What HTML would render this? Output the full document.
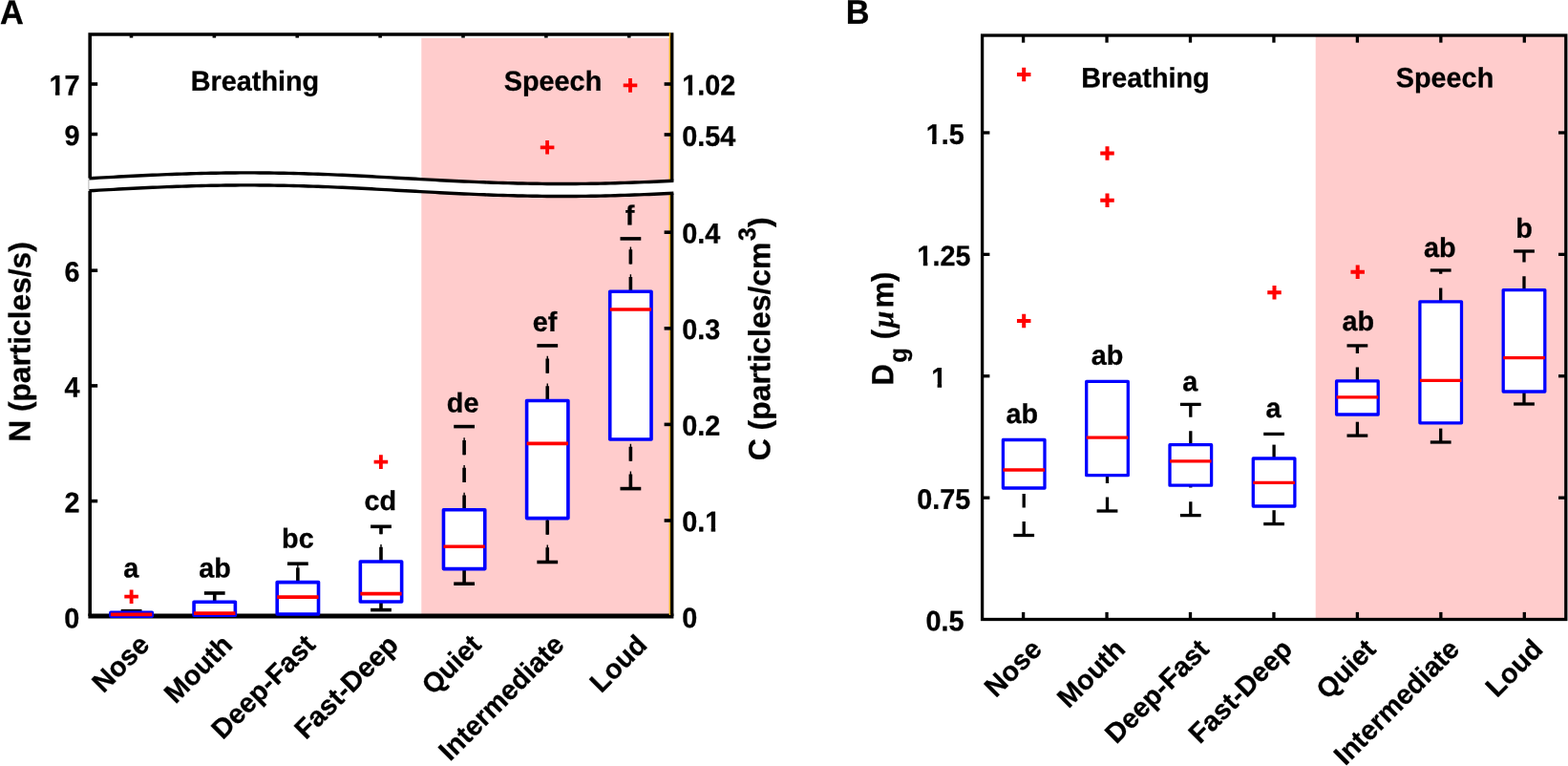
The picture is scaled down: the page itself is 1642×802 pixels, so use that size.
<!DOCTYPE html>
<html lang="en">
<head>
<meta charset="utf-8">
<title>Particle emission during breathing and speech</title>
<style>
html,body{margin:0;padding:0;background:#fff;}
body{width:1642px;height:802px;overflow:hidden;}
svg{display:block;}
svg text{font-family:"Liberation Sans", sans-serif;font-weight:bold;fill:#000;stroke:#000;stroke-width:0.3px;stroke-linejoin:round;text-rendering:geometricPrecision;}
</style>
</head>
<body>
<svg width="1642" height="802" viewBox="0 0 1642 802">
<rect width="1642" height="802" fill="#fff"/>
<polygon points="441.30,40.00 701.00,40.00 701.00,189.50 700.25,189.54 695.15,189.78 690.05,190.02 684.95,190.24 679.85,190.46 674.75,190.67 669.65,190.87 664.55,191.06 659.45,191.24 654.35,191.41 649.25,191.57 644.15,191.72 639.06,191.85 633.96,191.98 628.86,192.09 623.76,192.19 618.66,192.27 613.56,192.34 608.46,192.40 603.36,192.45 598.26,192.48 593.16,192.50 588.06,192.50 582.96,192.49 577.86,192.47 572.76,192.43 567.66,192.38 562.56,192.32 557.46,192.24 552.36,192.15 547.26,192.05 542.16,191.93 537.06,191.81 531.96,191.67 526.86,191.51 521.76,191.35 516.67,191.18 511.57,190.99 506.47,190.80 501.37,190.60 496.27,190.38 491.17,190.16 486.07,189.93 480.97,189.69 475.87,189.45 470.77,189.20 465.67,188.94 460.57,188.68 455.47,188.41 450.37,188.14 445.27,187.87 441.30,187.65" fill="#fcc"/>
<polygon points="441.30,645.00 701.00,645.00 701.00,202.50 700.25,202.54 695.15,202.78 690.05,203.02 684.95,203.24 679.85,203.46 674.75,203.67 669.65,203.87 664.55,204.06 659.45,204.24 654.35,204.41 649.25,204.57 644.15,204.72 639.06,204.85 633.96,204.98 628.86,205.09 623.76,205.19 618.66,205.27 613.56,205.34 608.46,205.40 603.36,205.45 598.26,205.48 593.16,205.50 588.06,205.50 582.96,205.49 577.86,205.47 572.76,205.43 567.66,205.38 562.56,205.32 557.46,205.24 552.36,205.15 547.26,205.05 542.16,204.93 537.06,204.81 531.96,204.67 526.86,204.51 521.76,204.35 516.67,204.18 511.57,203.99 506.47,203.80 501.37,203.60 496.27,203.38 491.17,203.16 486.07,202.93 480.97,202.69 475.87,202.45 470.77,202.20 465.67,201.94 460.57,201.68 455.47,201.41 450.37,201.14 445.27,200.87 441.30,200.65" fill="#fcc"/>
<path d="M94.20 186.69V36.00H703.60V189.38" fill="none" stroke="#000" stroke-width="3.6" stroke-linejoin="miter"/>
<path d="M94.20 199.69V645.00" fill="none" stroke="#000" stroke-width="3.6"/>
<path d="M703.60 202.38V645.00" fill="none" stroke="#000" stroke-width="3.6"/>
<line x1="92.40" y1="645.00" x2="705.40" y2="645.00" stroke="#000" stroke-width="5.0"/>
<line x1="701.40" y1="34.25" x2="701.40" y2="189.38" stroke="#edb120" stroke-width="1.4"/>
<line x1="701.40" y1="202.38" x2="701.40" y2="644.00" stroke="#edb120" stroke-width="1.4"/>
<polygon points="92.45,186.69 93.40,186.73 98.50,186.45 103.60,186.17 108.70,185.89 113.80,185.61 118.90,185.34 124.00,185.07 129.10,184.80 134.20,184.53 139.30,184.28 144.40,184.02 149.50,183.78 154.59,183.54 159.69,183.30 164.79,183.08 169.89,182.86 174.99,182.66 180.09,182.46 185.19,182.27 190.29,182.10 195.39,181.93 200.49,181.78 205.59,181.63 210.69,181.50 215.79,181.38 220.89,181.28 225.99,181.18 231.09,181.10 236.19,181.04 241.29,180.98 246.39,180.94 251.49,180.91 256.59,180.90 261.69,180.90 266.79,180.92 271.89,180.94 276.99,180.98 282.08,181.04 287.18,181.11 292.28,181.19 297.38,181.28 302.48,181.39 307.58,181.51 312.68,181.64 317.78,181.78 322.88,181.94 327.98,182.11 333.08,182.28 338.18,182.47 343.28,182.67 348.38,182.88 353.48,183.09 358.58,183.32 363.68,183.55 368.78,183.79 373.88,184.04 378.98,184.29 384.08,184.55 389.18,184.81 394.28,185.08 399.38,185.35 404.47,185.63 409.57,185.91 414.67,186.19 419.77,186.47 424.87,186.75 429.97,187.03 435.07,187.31 440.17,187.59 445.27,187.87 450.37,188.14 455.47,188.41 460.57,188.68 465.67,188.94 470.77,189.20 475.87,189.45 480.97,189.69 486.07,189.93 491.17,190.16 496.27,190.38 501.37,190.60 506.47,190.80 511.57,190.99 516.67,191.18 521.76,191.35 526.86,191.51 531.96,191.67 537.06,191.81 542.16,191.93 547.26,192.05 552.36,192.15 557.46,192.24 562.56,192.32 567.66,192.38 572.76,192.43 577.86,192.47 582.96,192.49 588.06,192.50 593.16,192.50 598.26,192.48 603.36,192.45 608.46,192.40 613.56,192.34 618.66,192.27 623.76,192.19 628.86,192.09 633.96,191.98 639.06,191.85 644.15,191.72 649.25,191.57 654.35,191.41 659.45,191.24 664.55,191.06 669.65,190.87 674.75,190.67 679.85,190.46 684.95,190.24 690.05,190.02 695.15,189.78 700.25,189.54 705.35,189.29 705.35,202.29 700.25,202.54 695.15,202.78 690.05,203.02 684.95,203.24 679.85,203.46 674.75,203.67 669.65,203.87 664.55,204.06 659.45,204.24 654.35,204.41 649.25,204.57 644.15,204.72 639.06,204.85 633.96,204.98 628.86,205.09 623.76,205.19 618.66,205.27 613.56,205.34 608.46,205.40 603.36,205.45 598.26,205.48 593.16,205.50 588.06,205.50 582.96,205.49 577.86,205.47 572.76,205.43 567.66,205.38 562.56,205.32 557.46,205.24 552.36,205.15 547.26,205.05 542.16,204.93 537.06,204.81 531.96,204.67 526.86,204.51 521.76,204.35 516.67,204.18 511.57,203.99 506.47,203.80 501.37,203.60 496.27,203.38 491.17,203.16 486.07,202.93 480.97,202.69 475.87,202.45 470.77,202.20 465.67,201.94 460.57,201.68 455.47,201.41 450.37,201.14 445.27,200.87 440.17,200.59 435.07,200.31 429.97,200.03 424.87,199.75 419.77,199.47 414.67,199.19 409.57,198.91 404.47,198.63 399.38,198.35 394.28,198.08 389.18,197.81 384.08,197.55 378.98,197.29 373.88,197.04 368.78,196.79 363.68,196.55 358.58,196.32 353.48,196.09 348.38,195.88 343.28,195.67 338.18,195.47 333.08,195.28 327.98,195.11 322.88,194.94 317.78,194.78 312.68,194.64 307.58,194.51 302.48,194.39 297.38,194.28 292.28,194.19 287.18,194.11 282.08,194.04 276.99,193.98 271.89,193.94 266.79,193.92 261.69,193.90 256.59,193.90 251.49,193.91 246.39,193.94 241.29,193.98 236.19,194.04 231.09,194.10 225.99,194.18 220.89,194.28 215.79,194.38 210.69,194.50 205.59,194.63 200.49,194.78 195.39,194.93 190.29,195.10 185.19,195.27 180.09,195.46 174.99,195.66 169.89,195.86 164.79,196.08 159.69,196.30 154.59,196.54 149.50,196.78 144.40,197.02 139.30,197.28 134.20,197.53 129.10,197.80 124.00,198.07 118.90,198.34 113.80,198.61 108.70,198.89 103.60,199.17 98.50,199.45 93.40,199.73 92.45,199.69" fill="#fff"/>
<line x1="92.90" y1="187.69" x2="92.90" y2="198.69" stroke="#666" stroke-width="0.5"/>
<polyline points="93.40,186.73 98.50,186.45 103.60,186.17 108.70,185.89 113.80,185.61 118.90,185.34 124.00,185.07 129.10,184.80 134.20,184.53 139.30,184.28 144.40,184.02 149.50,183.78 154.59,183.54 159.69,183.30 164.79,183.08 169.89,182.86 174.99,182.66 180.09,182.46 185.19,182.27 190.29,182.10 195.39,181.93 200.49,181.78 205.59,181.63 210.69,181.50 215.79,181.38 220.89,181.28 225.99,181.18 231.09,181.10 236.19,181.04 241.29,180.98 246.39,180.94 251.49,180.91 256.59,180.90 261.69,180.90 266.79,180.92 271.89,180.94 276.99,180.98 282.08,181.04 287.18,181.11 292.28,181.19 297.38,181.28 302.48,181.39 307.58,181.51 312.68,181.64 317.78,181.78 322.88,181.94 327.98,182.11 333.08,182.28 338.18,182.47 343.28,182.67 348.38,182.88 353.48,183.09 358.58,183.32 363.68,183.55 368.78,183.79 373.88,184.04 378.98,184.29 384.08,184.55 389.18,184.81 394.28,185.08 399.38,185.35 404.47,185.63 409.57,185.91 414.67,186.19 419.77,186.47 424.87,186.75 429.97,187.03 435.07,187.31 440.17,187.59 445.27,187.87 450.37,188.14 455.47,188.41 460.57,188.68 465.67,188.94 470.77,189.20 475.87,189.45 480.97,189.69 486.07,189.93 491.17,190.16 496.27,190.38 501.37,190.60 506.47,190.80 511.57,190.99 516.67,191.18 521.76,191.35 526.86,191.51 531.96,191.67 537.06,191.81 542.16,191.93 547.26,192.05 552.36,192.15 557.46,192.24 562.56,192.32 567.66,192.38 572.76,192.43 577.86,192.47 582.96,192.49 588.06,192.50 593.16,192.50 598.26,192.48 603.36,192.45 608.46,192.40 613.56,192.34 618.66,192.27 623.76,192.19 628.86,192.09 633.96,191.98 639.06,191.85 644.15,191.72 649.25,191.57 654.35,191.41 659.45,191.24 664.55,191.06 669.65,190.87 674.75,190.67 679.85,190.46 684.95,190.24 690.05,190.02 695.15,189.78 700.25,189.54 705.35,189.29" fill="none" stroke="#000" stroke-width="3.4"/>
<polyline points="93.40,199.73 98.50,199.45 103.60,199.17 108.70,198.89 113.80,198.61 118.90,198.34 124.00,198.07 129.10,197.80 134.20,197.53 139.30,197.28 144.40,197.02 149.50,196.78 154.59,196.54 159.69,196.30 164.79,196.08 169.89,195.86 174.99,195.66 180.09,195.46 185.19,195.27 190.29,195.10 195.39,194.93 200.49,194.78 205.59,194.63 210.69,194.50 215.79,194.38 220.89,194.28 225.99,194.18 231.09,194.10 236.19,194.04 241.29,193.98 246.39,193.94 251.49,193.91 256.59,193.90 261.69,193.90 266.79,193.92 271.89,193.94 276.99,193.98 282.08,194.04 287.18,194.11 292.28,194.19 297.38,194.28 302.48,194.39 307.58,194.51 312.68,194.64 317.78,194.78 322.88,194.94 327.98,195.11 333.08,195.28 338.18,195.47 343.28,195.67 348.38,195.88 353.48,196.09 358.58,196.32 363.68,196.55 368.78,196.79 373.88,197.04 378.98,197.29 384.08,197.55 389.18,197.81 394.28,198.08 399.38,198.35 404.47,198.63 409.57,198.91 414.67,199.19 419.77,199.47 424.87,199.75 429.97,200.03 435.07,200.31 440.17,200.59 445.27,200.87 450.37,201.14 455.47,201.41 460.57,201.68 465.67,201.94 470.77,202.20 475.87,202.45 480.97,202.69 486.07,202.93 491.17,203.16 496.27,203.38 501.37,203.60 506.47,203.80 511.57,203.99 516.67,204.18 521.76,204.35 526.86,204.51 531.96,204.67 537.06,204.81 542.16,204.93 547.26,205.05 552.36,205.15 557.46,205.24 562.56,205.32 567.66,205.38 572.76,205.43 577.86,205.47 582.96,205.49 588.06,205.50 593.16,205.50 598.26,205.48 603.36,205.45 608.46,205.40 613.56,205.34 618.66,205.27 623.76,205.19 628.86,205.09 633.96,204.98 639.06,204.85 644.15,204.72 649.25,204.57 654.35,204.41 659.45,204.24 664.55,204.06 669.65,203.87 674.75,203.67 679.85,203.46 684.95,203.24 690.05,203.02 695.15,202.78 700.25,202.54 705.35,202.29" fill="none" stroke="#000" stroke-width="3.4"/>
<line x1="137.50" y1="36.00" x2="137.50" y2="39.60" stroke="#000" stroke-width="3.6" />
<line x1="224.38" y1="36.00" x2="224.38" y2="39.60" stroke="#000" stroke-width="3.6" />
<line x1="311.25" y1="36.00" x2="311.25" y2="39.60" stroke="#000" stroke-width="3.6" />
<line x1="398.12" y1="36.00" x2="398.12" y2="39.60" stroke="#000" stroke-width="3.6" />
<line x1="485.00" y1="36.00" x2="485.00" y2="39.60" stroke="#000" stroke-width="3.6" />
<line x1="571.88" y1="36.00" x2="571.88" y2="39.60" stroke="#000" stroke-width="3.6" />
<line x1="658.75" y1="36.00" x2="658.75" y2="39.60" stroke="#000" stroke-width="3.6" />
<line x1="94.20" y1="88.00" x2="102.20" y2="88.00" stroke="#000" stroke-width="3.6" />
<text font-size="28.8" text-anchor="end" transform="translate(83.50 99.60) rotate(0.03) scale(1 1.03)" >17</text>
<rect x="51.17" y="95.37" width="6.72" height="6.43" fill="#fff"/>
<rect x="62.45" y="95.37" width="5.64" height="6.43" fill="#fff"/>
<line x1="94.20" y1="140.50" x2="102.20" y2="140.50" stroke="#000" stroke-width="3.6" />
<text font-size="28.8" text-anchor="end" transform="translate(83.50 152.10) rotate(0.03) scale(1 1.03)" >9</text>
<line x1="94.20" y1="283.20" x2="102.20" y2="283.20" stroke="#000" stroke-width="3.6" />
<text font-size="28.8" text-anchor="end" transform="translate(83.50 294.80) rotate(0.03) scale(1 1.03)" >6</text>
<line x1="94.20" y1="403.90" x2="102.20" y2="403.90" stroke="#000" stroke-width="3.6" />
<text font-size="28.8" text-anchor="end" transform="translate(83.50 415.50) rotate(0.03) scale(1 1.03)" >4</text>
<line x1="94.20" y1="524.60" x2="102.20" y2="524.60" stroke="#000" stroke-width="3.6" />
<text font-size="28.8" text-anchor="end" transform="translate(83.50 536.20) rotate(0.03) scale(1 1.03)" >2</text>
<text font-size="28.8" text-anchor="end" transform="translate(83.20 657.50) rotate(0.03) scale(1 1.03)" >0</text>
<line x1="695.60" y1="88.00" x2="703.60" y2="88.00" stroke="#000" stroke-width="3.6" />
<text font-size="28.8" text-anchor="start" transform="translate(714.20 99.20) rotate(0.03) scale(1 1.03)" >1.02</text>
<rect x="713.90" y="94.97" width="6.72" height="6.43" fill="#fff"/>
<rect x="725.17" y="94.97" width="5.64" height="6.43" fill="#fff"/>
<line x1="695.60" y1="140.95" x2="703.60" y2="140.95" stroke="#000" stroke-width="3.6" />
<text font-size="28.8" text-anchor="start" transform="translate(714.20 152.75) rotate(0.03) scale(1 1.03)" >0.54</text>
<line x1="695.60" y1="243.20" x2="703.60" y2="243.20" stroke="#000" stroke-width="3.6" />
<text font-size="28.8" text-anchor="start" transform="translate(714.20 254.50) rotate(0.03) scale(1 1.03)" >0.4</text>
<line x1="695.60" y1="343.80" x2="703.60" y2="343.80" stroke="#000" stroke-width="3.6" />
<text font-size="28.8" text-anchor="start" transform="translate(714.20 355.10) rotate(0.03) scale(1 1.03)" >0.3</text>
<line x1="695.60" y1="444.40" x2="703.60" y2="444.40" stroke="#000" stroke-width="3.6" />
<text font-size="28.8" text-anchor="start" transform="translate(714.20 455.70) rotate(0.03) scale(1 1.03)" >0.2</text>
<line x1="695.60" y1="545.00" x2="703.60" y2="545.00" stroke="#000" stroke-width="3.6" />
<text font-size="28.8" text-anchor="start" transform="translate(714.20 556.30) rotate(0.03) scale(1 1.03)" >0.1</text>
<rect x="737.92" y="552.07" width="6.72" height="6.43" fill="#fff"/>
<rect x="749.19" y="552.07" width="5.64" height="6.43" fill="#fff"/>
<text font-size="28.8" text-anchor="start" transform="translate(714.20 657.10) rotate(0.03) scale(1 1.03)" >0</text>
<line x1="137.60" y1="641.20" x2="137.60" y2="639.70" stroke="#000" stroke-width="3.6" stroke-dasharray="15.2 13.55"/>
<line x1="137.60" y1="641.20" x2="137.60" y2="639.70" stroke="#000" stroke-width="1.4" stroke-dasharray="18 10.75"/>
<line x1="126.70" y1="639.70" x2="148.50" y2="639.70" stroke="#000" stroke-width="3.6" />
<rect x="115.95" y="641.20" width="43.30" height="3.90" fill="#fff" stroke="#00f" stroke-width="3.6" stroke-linejoin="round"/>
<line x1="115.95" y1="643.40" x2="159.25" y2="643.40" stroke="#f00" stroke-width="3.6" />
<line x1="224.73" y1="630.20" x2="224.73" y2="621.00" stroke="#000" stroke-width="3.6" stroke-dasharray="15.2 13.55"/>
<line x1="224.73" y1="630.20" x2="224.73" y2="621.00" stroke="#000" stroke-width="1.4" stroke-dasharray="18 10.75"/>
<line x1="213.83" y1="621.00" x2="235.63" y2="621.00" stroke="#000" stroke-width="3.6" />
<rect x="203.08" y="630.20" width="43.30" height="14.00" fill="#fff" stroke="#00f" stroke-width="3.6" stroke-linejoin="round"/>
<line x1="203.08" y1="642.10" x2="246.38" y2="642.10" stroke="#f00" stroke-width="3.6" />
<line x1="311.86" y1="609.60" x2="311.86" y2="590.20" stroke="#000" stroke-width="3.6" stroke-dasharray="15.2 13.55"/>
<line x1="311.86" y1="609.60" x2="311.86" y2="590.20" stroke="#000" stroke-width="1.4" stroke-dasharray="18 10.75"/>
<line x1="300.96" y1="590.20" x2="322.76" y2="590.20" stroke="#000" stroke-width="3.6" />
<rect x="290.21" y="609.60" width="43.30" height="33.40" fill="#fff" stroke="#00f" stroke-width="3.6" stroke-linejoin="round"/>
<line x1="290.21" y1="625.10" x2="333.51" y2="625.10" stroke="#f00" stroke-width="3.6" />
<line x1="398.99" y1="638.60" x2="398.99" y2="630.00" stroke="#000" stroke-width="3.6" stroke-dasharray="15.2 13.55"/>
<line x1="398.99" y1="638.60" x2="398.99" y2="630.00" stroke="#000" stroke-width="1.4" stroke-dasharray="18 10.75"/>
<line x1="388.09" y1="638.60" x2="409.89" y2="638.60" stroke="#000" stroke-width="3.6" />
<line x1="398.99" y1="588.00" x2="398.99" y2="551.30" stroke="#000" stroke-width="3.6" stroke-dasharray="15.2 13.55"/>
<line x1="398.99" y1="588.00" x2="398.99" y2="551.30" stroke="#000" stroke-width="1.4" stroke-dasharray="18 10.75"/>
<line x1="388.09" y1="551.30" x2="409.89" y2="551.30" stroke="#000" stroke-width="3.6" />
<rect x="377.34" y="588.00" width="43.30" height="42.00" fill="#fff" stroke="#00f" stroke-width="3.6" stroke-linejoin="round"/>
<line x1="377.34" y1="621.60" x2="420.64" y2="621.60" stroke="#f00" stroke-width="3.6" />
<line x1="486.12" y1="611.20" x2="486.12" y2="595.60" stroke="#000" stroke-width="3.6" stroke-dasharray="15.2 13.55"/>
<line x1="486.12" y1="611.20" x2="486.12" y2="595.60" stroke="#000" stroke-width="1.4" stroke-dasharray="18 10.75"/>
<line x1="475.22" y1="611.20" x2="497.02" y2="611.20" stroke="#000" stroke-width="3.6" />
<line x1="486.12" y1="533.70" x2="486.12" y2="446.60" stroke="#000" stroke-width="3.6" stroke-dasharray="15.2 13.55"/>
<line x1="486.12" y1="533.70" x2="486.12" y2="446.60" stroke="#000" stroke-width="1.4" stroke-dasharray="18 10.75"/>
<line x1="475.22" y1="446.60" x2="497.02" y2="446.60" stroke="#000" stroke-width="3.6" />
<rect x="464.47" y="533.70" width="43.30" height="61.90" fill="#fff" stroke="#00f" stroke-width="3.6" stroke-linejoin="round"/>
<line x1="464.47" y1="572.20" x2="507.77" y2="572.20" stroke="#f00" stroke-width="3.6" />
<line x1="573.25" y1="588.50" x2="573.25" y2="542.60" stroke="#000" stroke-width="3.6" stroke-dasharray="15.2 13.55"/>
<line x1="573.25" y1="588.50" x2="573.25" y2="542.60" stroke="#000" stroke-width="1.4" stroke-dasharray="18 10.75"/>
<line x1="562.35" y1="588.50" x2="584.15" y2="588.50" stroke="#000" stroke-width="3.6" />
<line x1="573.25" y1="419.50" x2="573.25" y2="361.90" stroke="#000" stroke-width="3.6" stroke-dasharray="15.2 13.55"/>
<line x1="573.25" y1="419.50" x2="573.25" y2="361.90" stroke="#000" stroke-width="1.4" stroke-dasharray="18 10.75"/>
<line x1="562.35" y1="361.90" x2="584.15" y2="361.90" stroke="#000" stroke-width="3.6" />
<rect x="551.60" y="419.50" width="43.30" height="123.10" fill="#fff" stroke="#00f" stroke-width="3.6" stroke-linejoin="round"/>
<line x1="551.60" y1="464.40" x2="594.90" y2="464.40" stroke="#f00" stroke-width="3.6" />
<line x1="660.38" y1="511.60" x2="660.38" y2="460.00" stroke="#000" stroke-width="3.6" stroke-dasharray="15.2 13.55"/>
<line x1="660.38" y1="511.60" x2="660.38" y2="460.00" stroke="#000" stroke-width="1.4" stroke-dasharray="18 10.75"/>
<line x1="649.48" y1="511.60" x2="671.28" y2="511.60" stroke="#000" stroke-width="3.6" />
<line x1="660.38" y1="305.20" x2="660.38" y2="249.90" stroke="#000" stroke-width="3.6" stroke-dasharray="15.2 13.55"/>
<line x1="660.38" y1="305.20" x2="660.38" y2="249.90" stroke="#000" stroke-width="1.4" stroke-dasharray="18 10.75"/>
<line x1="649.48" y1="249.90" x2="671.28" y2="249.90" stroke="#000" stroke-width="3.6" />
<rect x="638.73" y="305.20" width="43.30" height="154.80" fill="#fff" stroke="#00f" stroke-width="3.6" stroke-linejoin="round"/>
<line x1="638.73" y1="324.00" x2="682.03" y2="324.00" stroke="#f00" stroke-width="3.6" />
<path d="M130.30 624.70H144.90M137.60 617.40V632.00" stroke="#f00" stroke-width="3.8" fill="none"/>
<path d="M391.60 483.60H406.20M398.90 476.30V490.90" stroke="#f00" stroke-width="3.8" fill="none"/>
<path d="M652.70 89.40H667.30M660.00 82.10V96.70" stroke="#f00" stroke-width="3.8" fill="none"/>
<path d="M565.80 154.30H580.40M573.10 147.00V161.60" stroke="#f00" stroke-width="3.8" fill="none"/>
<text font-size="28.8" text-anchor="middle" transform="translate(137.20 604.50) rotate(0.03)" >a</text>
<text font-size="28.8" text-anchor="middle" transform="translate(225.13 604.50) rotate(0.03)" >ab</text>
<text font-size="28.8" text-anchor="middle" transform="translate(311.86 573.40) rotate(0.03)" >bc</text>
<text font-size="28.8" text-anchor="middle" transform="translate(398.19 534.00) rotate(0.03)" >cd</text>
<text font-size="28.8" text-anchor="middle" transform="translate(484.62 431.60) rotate(0.03)" >de</text>
<text font-size="28.8" text-anchor="middle" transform="translate(570.45 346.80) rotate(0.03)" >ef</text>
<text font-size="28.8" text-anchor="middle" transform="translate(659.58 235.30) rotate(0.03)" >f</text>
<text font-size="28.8" text-anchor="middle" transform="translate(267.00 94.80) rotate(0.03) scale(1 1.01)" >Breathing</text>
<text font-size="28.8" text-anchor="middle" transform="translate(579.00 94.80) rotate(0.03) scale(1 1.01)" >Speech</text>
<text font-size="28.8" text-anchor="end" transform="translate(158.00 676.70) rotate(-45)" >Nose</text>
<text font-size="28.8" text-anchor="end" transform="translate(244.88 676.70) rotate(-45)" >Mouth</text>
<text font-size="28.8" text-anchor="end" transform="translate(331.75 676.70) rotate(-45)" >Deep-Fast</text>
<text font-size="28.8" text-anchor="end" transform="translate(418.62 676.70) rotate(-45)" >Fast-Deep</text>
<text font-size="28.8" text-anchor="end" transform="translate(505.50 676.70) rotate(-45)" >Quiet</text>
<text font-size="28.8" text-anchor="end" transform="translate(592.38 676.70) rotate(-45)" >Intermediate</text>
<text font-size="28.8" text-anchor="end" transform="translate(679.25 676.70) rotate(-45)" >Loud</text>
<text font-size="31.7" text-anchor="middle" transform="translate(31.60 358.00) rotate(-89.97)" >N (particles/s)</text>
<text font-size="31.9" text-anchor="start" transform="translate(806.2 482.3) rotate(-89.97)">C (particles/cm<tspan dx="1.3" dy="-15.4" font-size="25.4">3</tspan><tspan dx="0.3" dy="15.4">)</tspan></text>
<text font-size="34.3" text-anchor="start" transform="translate(0.10 25.00) rotate(0.03) scale(1 1.04)" >A</text>
<rect x="1377.7" y="37.05" width="262.0999999999999" height="611.45" fill="#fcc"/>
<rect x="1028.6" y="37.05" width="611.2" height="611.45" fill="none" stroke="#000" stroke-width="3.3"/>
<line x1="1071.60" y1="37.05" x2="1071.60" y2="44.65" stroke="#000" stroke-width="3.3" />
<line x1="1071.60" y1="648.50" x2="1071.60" y2="640.90" stroke="#000" stroke-width="3.3" />
<line x1="1159.05" y1="37.05" x2="1159.05" y2="44.65" stroke="#000" stroke-width="3.3" />
<line x1="1159.05" y1="648.50" x2="1159.05" y2="640.90" stroke="#000" stroke-width="3.3" />
<line x1="1246.50" y1="37.05" x2="1246.50" y2="44.65" stroke="#000" stroke-width="3.3" />
<line x1="1246.50" y1="648.50" x2="1246.50" y2="640.90" stroke="#000" stroke-width="3.3" />
<line x1="1333.95" y1="37.05" x2="1333.95" y2="44.65" stroke="#000" stroke-width="3.3" />
<line x1="1333.95" y1="648.50" x2="1333.95" y2="640.90" stroke="#000" stroke-width="3.3" />
<line x1="1421.40" y1="37.05" x2="1421.40" y2="44.65" stroke="#000" stroke-width="3.3" />
<line x1="1421.40" y1="648.50" x2="1421.40" y2="640.90" stroke="#000" stroke-width="3.3" />
<line x1="1508.85" y1="37.05" x2="1508.85" y2="44.65" stroke="#000" stroke-width="3.3" />
<line x1="1508.85" y1="648.50" x2="1508.85" y2="640.90" stroke="#000" stroke-width="3.3" />
<line x1="1596.30" y1="37.05" x2="1596.30" y2="44.65" stroke="#000" stroke-width="3.3" />
<line x1="1596.30" y1="648.50" x2="1596.30" y2="640.90" stroke="#000" stroke-width="3.3" />
<line x1="1028.60" y1="138.95" x2="1036.40" y2="138.95" stroke="#000" stroke-width="3.3" />
<line x1="1632.00" y1="138.95" x2="1639.80" y2="138.95" stroke="#000" stroke-width="3.3" />
<text font-size="28.8" text-anchor="middle" transform="translate(989.70 150.65) rotate(0.03) scale(1 1.03)" >1.5</text>
<rect x="969.38" y="146.42" width="6.72" height="6.43" fill="#fff"/>
<rect x="980.66" y="146.42" width="5.64" height="6.43" fill="#fff"/>
<line x1="1028.60" y1="266.35" x2="1036.40" y2="266.35" stroke="#000" stroke-width="3.3" />
<line x1="1632.00" y1="266.35" x2="1639.80" y2="266.35" stroke="#000" stroke-width="3.3" />
<text font-size="28.8" text-anchor="middle" transform="translate(988.40 278.05) rotate(0.03) scale(1 1.03)" >1.25</text>
<rect x="960.08" y="273.82" width="6.72" height="6.43" fill="#fff"/>
<rect x="971.35" y="273.82" width="5.64" height="6.43" fill="#fff"/>
<line x1="1028.60" y1="393.75" x2="1036.40" y2="393.75" stroke="#000" stroke-width="3.3" />
<line x1="1632.00" y1="393.75" x2="1639.80" y2="393.75" stroke="#000" stroke-width="3.3" />
<text font-size="28.8" text-anchor="middle" transform="translate(983.20 405.45) rotate(0.03) scale(1 1.03)" >1</text>
<rect x="974.89" y="401.22" width="6.72" height="6.43" fill="#fff"/>
<rect x="986.17" y="401.22" width="5.64" height="6.43" fill="#fff"/>
<line x1="1028.60" y1="521.15" x2="1036.40" y2="521.15" stroke="#000" stroke-width="3.3" />
<line x1="1632.00" y1="521.15" x2="1639.80" y2="521.15" stroke="#000" stroke-width="3.3" />
<text font-size="28.8" text-anchor="middle" transform="translate(988.20 532.85) rotate(0.03) scale(1 1.03)" >0.75</text>
<text font-size="28.8" text-anchor="middle" transform="translate(989.40 660.20) rotate(0.03) scale(1 1.03)" >0.5</text>
<line x1="1072.20" y1="560.50" x2="1072.20" y2="511.00" stroke="#000" stroke-width="3.3" stroke-dasharray="14.4 14.6"/>
<line x1="1061.30" y1="560.50" x2="1083.10" y2="560.50" stroke="#000" stroke-width="3.3" />
<rect x="1050.40" y="460.50" width="43.60" height="50.50" fill="#fff" stroke="#00f" stroke-width="3.3" stroke-linejoin="round"/>
<line x1="1050.40" y1="492.00" x2="1094.00" y2="492.00" stroke="#f00" stroke-width="3.3" />
<line x1="1159.50" y1="535.00" x2="1159.50" y2="497.70" stroke="#000" stroke-width="3.3" stroke-dasharray="14.4 14.6"/>
<line x1="1148.60" y1="535.00" x2="1170.40" y2="535.00" stroke="#000" stroke-width="3.3" />
<rect x="1137.70" y="399.40" width="43.60" height="98.30" fill="#fff" stroke="#00f" stroke-width="3.3" stroke-linejoin="round"/>
<line x1="1137.70" y1="458.20" x2="1181.30" y2="458.20" stroke="#f00" stroke-width="3.3" />
<line x1="1246.80" y1="539.60" x2="1246.80" y2="508.20" stroke="#000" stroke-width="3.3" stroke-dasharray="14.4 14.6"/>
<line x1="1235.90" y1="539.60" x2="1257.70" y2="539.60" stroke="#000" stroke-width="3.3" />
<line x1="1246.80" y1="465.70" x2="1246.80" y2="423.40" stroke="#000" stroke-width="3.3" stroke-dasharray="14.4 14.6"/>
<line x1="1235.90" y1="423.40" x2="1257.70" y2="423.40" stroke="#000" stroke-width="3.3" />
<rect x="1225.00" y="465.70" width="43.60" height="42.50" fill="#fff" stroke="#00f" stroke-width="3.3" stroke-linejoin="round"/>
<line x1="1225.00" y1="482.90" x2="1268.60" y2="482.90" stroke="#f00" stroke-width="3.3" />
<line x1="1334.10" y1="548.60" x2="1334.10" y2="530.00" stroke="#000" stroke-width="3.3" stroke-dasharray="14.4 14.6"/>
<line x1="1323.20" y1="548.60" x2="1345.00" y2="548.60" stroke="#000" stroke-width="3.3" />
<line x1="1334.10" y1="480.00" x2="1334.10" y2="454.40" stroke="#000" stroke-width="3.3" stroke-dasharray="14.4 14.6"/>
<line x1="1323.20" y1="454.40" x2="1345.00" y2="454.40" stroke="#000" stroke-width="3.3" />
<rect x="1312.30" y="480.00" width="43.60" height="50.00" fill="#fff" stroke="#00f" stroke-width="3.3" stroke-linejoin="round"/>
<line x1="1312.30" y1="505.40" x2="1355.90" y2="505.40" stroke="#f00" stroke-width="3.3" />
<line x1="1421.40" y1="456.10" x2="1421.40" y2="434.00" stroke="#000" stroke-width="3.3" stroke-dasharray="14.4 14.6"/>
<line x1="1410.50" y1="456.10" x2="1432.30" y2="456.10" stroke="#000" stroke-width="3.3" />
<line x1="1421.40" y1="398.90" x2="1421.40" y2="361.90" stroke="#000" stroke-width="3.3" stroke-dasharray="14.4 14.6"/>
<line x1="1410.50" y1="361.90" x2="1432.30" y2="361.90" stroke="#000" stroke-width="3.3" />
<rect x="1399.60" y="398.90" width="43.60" height="35.10" fill="#fff" stroke="#00f" stroke-width="3.3" stroke-linejoin="round"/>
<line x1="1399.60" y1="415.90" x2="1443.20" y2="415.90" stroke="#f00" stroke-width="3.3" />
<line x1="1508.70" y1="463.00" x2="1508.70" y2="442.80" stroke="#000" stroke-width="3.3" stroke-dasharray="14.4 14.6"/>
<line x1="1497.80" y1="463.00" x2="1519.60" y2="463.00" stroke="#000" stroke-width="3.3" />
<line x1="1508.70" y1="315.80" x2="1508.70" y2="283.00" stroke="#000" stroke-width="3.3" stroke-dasharray="14.4 14.6"/>
<line x1="1497.80" y1="283.00" x2="1519.60" y2="283.00" stroke="#000" stroke-width="3.3" />
<rect x="1486.90" y="315.80" width="43.60" height="127.00" fill="#fff" stroke="#00f" stroke-width="3.3" stroke-linejoin="round"/>
<line x1="1486.90" y1="398.30" x2="1530.50" y2="398.30" stroke="#f00" stroke-width="3.3" />
<line x1="1596.00" y1="423.00" x2="1596.00" y2="410.00" stroke="#000" stroke-width="3.3" stroke-dasharray="14.4 14.6"/>
<line x1="1585.10" y1="423.00" x2="1606.90" y2="423.00" stroke="#000" stroke-width="3.3" />
<line x1="1596.00" y1="303.60" x2="1596.00" y2="263.00" stroke="#000" stroke-width="3.3" stroke-dasharray="14.4 14.6"/>
<line x1="1585.10" y1="263.00" x2="1606.90" y2="263.00" stroke="#000" stroke-width="3.3" />
<rect x="1574.20" y="303.60" width="43.60" height="106.40" fill="#fff" stroke="#00f" stroke-width="3.3" stroke-linejoin="round"/>
<line x1="1574.20" y1="374.60" x2="1617.80" y2="374.60" stroke="#f00" stroke-width="3.3" />
<path d="M1064.95 78.10H1079.45M1072.20 70.85V85.35" stroke="#f00" stroke-width="4.0" fill="none"/>
<path d="M1064.95 336.10H1079.45M1072.20 328.85V343.35" stroke="#f00" stroke-width="4.0" fill="none"/>
<path d="M1152.25 160.50H1166.75M1159.50 153.25V167.75" stroke="#f00" stroke-width="4.0" fill="none"/>
<path d="M1152.25 209.70H1166.75M1159.50 202.45V216.95" stroke="#f00" stroke-width="4.0" fill="none"/>
<path d="M1327.25 306.30H1341.75M1334.50 299.05V313.55" stroke="#f00" stroke-width="4.0" fill="none"/>
<path d="M1414.45 284.80H1428.95M1421.70 277.55V292.05" stroke="#f00" stroke-width="4.0" fill="none"/>
<text font-size="28.8" text-anchor="middle" transform="translate(1070.30 443.00) rotate(0.03)" >ab</text>
<text font-size="28.8" text-anchor="middle" transform="translate(1159.50 381.70) rotate(0.03)" >ab</text>
<text font-size="28.8" text-anchor="middle" transform="translate(1246.20 409.30) rotate(0.03)" >a</text>
<text font-size="28.8" text-anchor="middle" transform="translate(1333.50 437.00) rotate(0.03)" >a</text>
<text font-size="28.8" text-anchor="middle" transform="translate(1422.30 345.90) rotate(0.03)" >ab</text>
<text font-size="28.8" text-anchor="middle" transform="translate(1507.80 268.90) rotate(0.03)" >ab</text>
<text font-size="28.8" text-anchor="middle" transform="translate(1596.00 248.70) rotate(0.03)" >b</text>
<text font-size="28.8" text-anchor="middle" transform="translate(1199.50 91.30) rotate(0.03) scale(1 1.01)" >Breathing</text>
<text font-size="28.8" text-anchor="middle" transform="translate(1513.00 91.30) rotate(0.03) scale(1 1.01)" >Speech</text>
<text font-size="28.8" text-anchor="end" transform="translate(1092.60 681.40) rotate(-45)" >Nose</text>
<text font-size="28.8" text-anchor="end" transform="translate(1180.05 681.40) rotate(-45)" >Mouth</text>
<text font-size="28.8" text-anchor="end" transform="translate(1267.50 681.40) rotate(-45)" >Deep-Fast</text>
<text font-size="28.8" text-anchor="end" transform="translate(1354.95 681.40) rotate(-45)" >Fast-Deep</text>
<text font-size="28.8" text-anchor="end" transform="translate(1442.40 681.40) rotate(-45)" >Quiet</text>
<text font-size="28.8" text-anchor="end" transform="translate(1529.85 681.40) rotate(-45)" >Intermediate</text>
<text font-size="28.8" text-anchor="end" transform="translate(1617.30 681.40) rotate(-45)" >Loud</text>
<text font-size="31" text-anchor="start" transform="translate(935.3 403.6) rotate(-89.97) scale(1 1.03)">D<tspan dx="1.4" dy="13.8" font-size="25.6">g</tspan><tspan dx="0.3" dy="-13.8"> (</tspan><tspan dx="2.0" font-family="'Liberation Serif','DejaVu Serif',serif" font-style="italic" font-size="31">μ</tspan><tspan dx="3.2">m)</tspan></text>
<text font-size="34.3" text-anchor="start" transform="translate(885.70 24.80) rotate(0.03) scale(1 1.04)" >B</text>
</svg>
</body>
</html>
